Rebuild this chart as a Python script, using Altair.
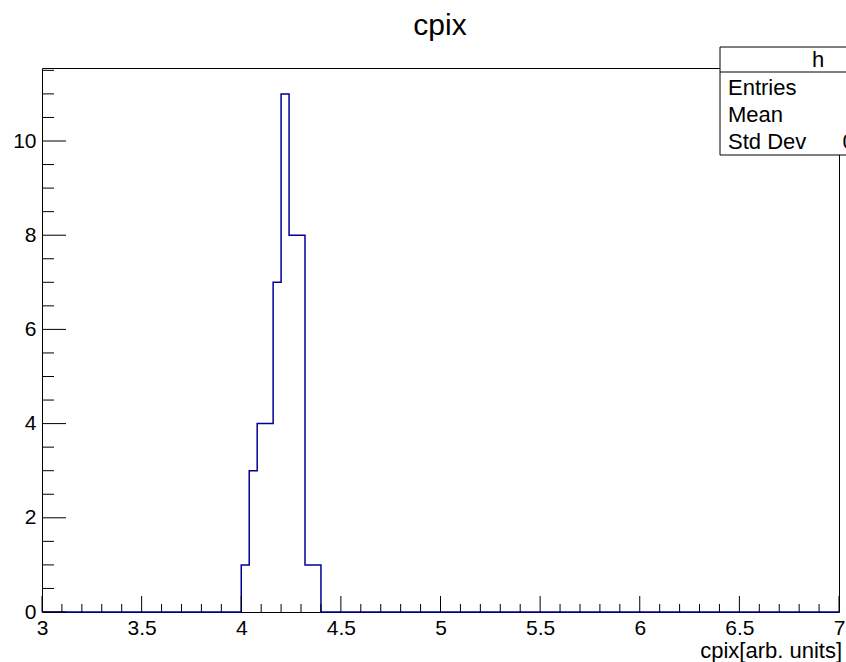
import altair as alt
import pandas as pd

# ---------------- data ----------------
title_text = "cpix"
x_title = "cpix[arb. units]"
hist_name = "h"

bin_low = [4.00, 4.04, 4.08, 4.12, 4.16, 4.20, 4.24, 4.28, 4.32, 4.36]
counts = [1, 3, 4, 4, 7, 11, 8, 8, 1, 1]
bin_width = 0.04
x_range = [3.0, 7.0]
y_range = [0.0, 11.55]

x_major = [3.0, 3.5, 4.0, 4.5, 5.0, 5.5, 6.0, 6.5, 7.0]
x_minor = [round(3.0 + 0.1 * i, 2) for i in range(41)]
y_major = [0, 2, 4, 6, 8, 10]
y_minor = [round(0.5 * i, 1) for i in range(24)]

stat_labels = ["Entries", "Mean", "Std Dev"]
stat_values = ["48", "4.209", "0.08031"]

# ---------------- layout ----------------
W, H = 797, 544
PAD = {"left": 42, "top": 68, "right": 7, "bottom": 50}
FONT = "Liberation Sans"
LINE_COLOR = "#000099"

xs = alt.Scale(domain=x_range, nice=False, zero=False)
ys = alt.Scale(domain=y_range, nice=False, zero=False)

x_axis = alt.Axis(
    values=x_major, format="~g", ticks=False, domain=False, grid=False,
    labelFontSize=21, labelFont=FONT, labelColor="black", labelPadding=5,
    title=None, labelFlush=False)
y_axis = alt.Axis(
    values=y_major, format="d", ticks=False, domain=False, grid=False,
    labelFontSize=21, labelFont=FONT, labelColor="black", labelPadding=6,
    title=None)

# histogram outline as step line
pts_x = [x_range[0]] + bin_low + [bin_low[-1] + bin_width, x_range[1]]
pts_y = [0] + counts + [0, 0]
hist_df = pd.DataFrame({"x": pts_x, "y": pts_y})

hist = alt.Chart(hist_df).mark_line(
    interpolate="step-after", color=LINE_COLOR, strokeWidth=1.5
).encode(
    x=alt.X("x:Q", scale=xs, axis=x_axis),
    y=alt.Y("y:Q", scale=ys, axis=y_axis),
)

def vrules(vals, length):
    df = pd.DataFrame({"x": vals})
    return alt.Chart(df).mark_rule(color="black", strokeWidth=1).encode(
        x=alt.X("x:Q", scale=xs, axis=x_axis),
        y=alt.value(H), y2=alt.value(H - length))

def hrules(vals, length):
    df = pd.DataFrame({"y": vals})
    return alt.Chart(df).mark_rule(color="black", strokeWidth=1).encode(
        y=alt.Y("y:Q", scale=ys, axis=y_axis),
        x=alt.value(0), x2=alt.value(length))

one = pd.DataFrame({"a": [0]})

title = alt.Chart(one).mark_text(
    text=title_text, font=FONT, fontSize=30, align="center", baseline="alphabetic",
    color="black").encode(x=alt.value(398), y=alt.value(-33))

xlabel = alt.Chart(one).mark_text(
    text=x_title, font=FONT, fontSize=22, align="right", baseline="alphabetic",
    color="black").encode(x=alt.value(W + 3), y=alt.value(590))

# stat box (extends past the right edge of the canvas, like the reference)
bx0, bx1 = 678, 884
by0, by_hdr, by1 = -21, 4, 87
box = alt.Chart(one).mark_rect(fill="white", stroke="black", strokeWidth=1).encode(
    x=alt.value(bx0), x2=alt.value(bx1), y=alt.value(by0), y2=alt.value(by1))
hdr_line = alt.Chart(one).mark_rule(color="black", strokeWidth=1).encode(
    x=alt.value(bx0), x2=alt.value(bx1), y=alt.value(by_hdr))
hdr_text = alt.Chart(one).mark_text(
    text=hist_name, font=FONT, fontSize=22, align="center", baseline="middle",
    color="black").encode(x=alt.value(776), y=alt.value(-8))

stat_layers = []
for i, (lab, val) in enumerate(zip(stat_labels, stat_values)):
    yy = 20 + i * 27
    stat_layers.append(alt.Chart(one).mark_text(
        text=lab, font=FONT, fontSize=22, align="left", baseline="middle",
        color="black").encode(x=alt.value(bx0 + 8), y=alt.value(yy)))
    stat_layers.append(alt.Chart(one).mark_text(
        text=val, font=FONT, fontSize=22, align="right", baseline="middle",
        color="black").encode(x=alt.value(bx1 - 4), y=alt.value(yy)))

chart = alt.layer(
    hist,
    vrules([v for v in x_minor if v not in x_major], 8),
    vrules(x_major, 16),
    hrules([v for v in y_minor if v not in y_major], 12),
    hrules(y_major, 24),
    title, xlabel, box, hdr_line, hdr_text, *stat_layers,
).properties(
    width=W, height=H,
    autosize=alt.AutoSizeParams(type="none"),
    padding=PAD,
    background="white",
).configure_view(stroke="black", strokeWidth=1)

chart.save("out.html", embed_options={"renderer": "svg", "actions": False})
